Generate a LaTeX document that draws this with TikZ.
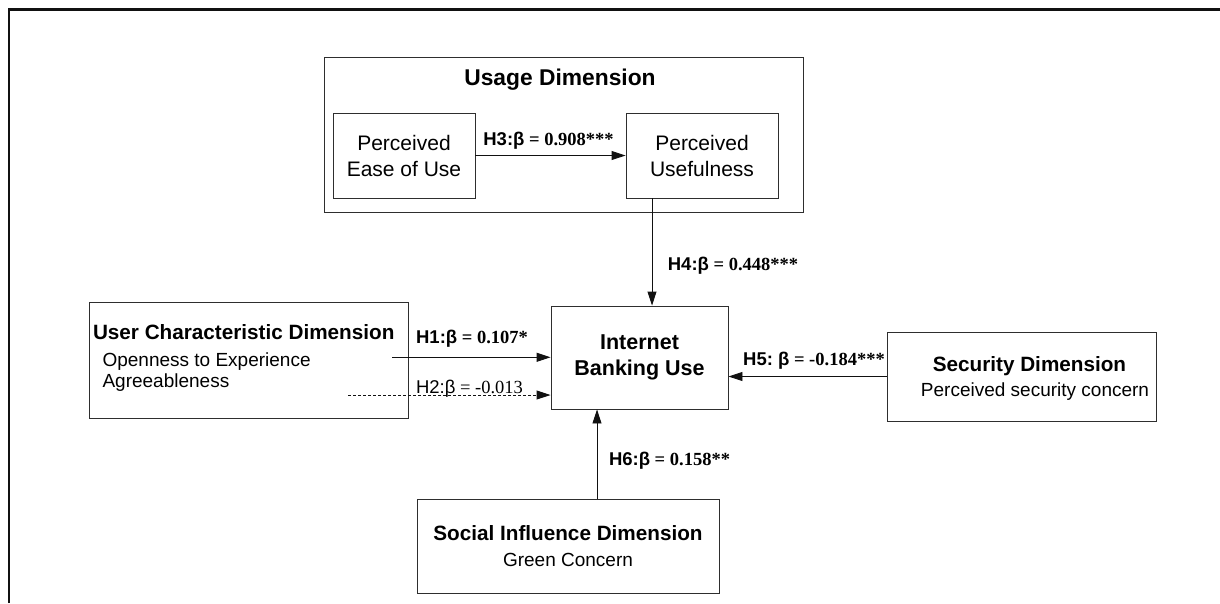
\documentclass[tikz,border=0pt]{standalone}
\usepackage{fontspec}
\setmainfont{Liberation Sans}
\newfontfamily\numfont{Liberation Serif}
\usetikzlibrary{arrows.meta,positioning,calc}
\definecolor{Ink}{HTML}{111111}
\definecolor{Edge}{HTML}{2E2E2E}
\tikzset{
  dimbox/.style={draw=Edge,line width=.9pt,inner sep=0pt,align=center,font=\fontsize{21}{26}\selectfont},
  hdr/.style={anchor=base,font=\fontsize{20.7}{26}\selectfont\bfseries},
  subtxt/.style={anchor=base,font=\fontsize{19}{24}\selectfont},
  lbl/.style={anchor=base,font=\fontsize{18.5}{22}\selectfont},
  eff/.style={-{Triangle[length=14pt,width=9pt]},draw=Ink,line width=.9pt},
  weak/.style={eff,dash pattern=on 3pt off 2pt},
}

\begin{document}
\begin{tikzpicture}[x=1pt,y=-1pt]
    \useasboundingbox (0,0) rectangle (1220,603);
    % page frame, cut off right and bottom
    \draw[line width=2.2pt,Ink] (9,603) -- (9,9.5) -- (1220,9.5);

    % usage dimension
    \node[dimbox,minimum width=479pt,minimum height=155pt] (usage) at (563.5,134.5) {};
    \node[hdr,font=\fontsize{22.8}{26}\selectfont\bfseries] (usagehdr) at (560,85) {Usage Dimension};
    \node[dimbox,minimum width=142pt,minimum height=85pt] (peou) at (404,155.5) {Perceived\\Ease of Use};
    \node[dimbox,minimum width=152pt,minimum height=85pt] (pu) at (702,155.5) {Perceived\\Usefulness};

    % outcome
    \node[dimbox,minimum width=177pt,minimum height=103pt,font=\fontsize{21.5}{25.7}\selectfont\bfseries] (ibu) at (639.5,357.5) {Internet\\Banking Use};

    % user characteristics
    \node[dimbox,minimum width=319pt,minimum height=116pt] (user) at (248.5,360) {};
    \node[hdr,anchor=base west] (userhdr) at (89.5,339) {User Characteristic Dimension};
    \node[subtxt,anchor=base west] (useropen) at (99,366.7) {Openness to Experience};
    \node[subtxt,anchor=base west] (useragree) at (99,387) {Agreeableness};

    % security
    \node[dimbox,minimum width=269pt,minimum height=89pt] (sec) at (1021.5,376.5) {};
    \node[hdr] (sechdr) at (1029.5,371.7) {Security Dimension};
    \node[subtxt] (secsub) at (1035,396.7) {Perceived security concern};

    % social influence
    \node[dimbox,minimum width=302pt,minimum height=94pt] (social) at (568,546) {};
    \node[hdr] (socialhdr) at (568,540.7) {Social Influence Dimension};
    \node[subtxt] (socialsub) at (568,566) {Green Concern};

    % paths
    \coordinate (h4tail) at (652,198);
    \coordinate (h1tail) at (392,357.3);
    \coordinate (h2tail) at (348,395);
    \coordinate (h6tail) at (social.north -| 597,0);
    \draw[eff] (peou.east) -- (pu.west);
    \draw[eff] (h4tail) -- (h4tail |- ibu.north);
    \draw[eff] (h1tail) -- (h1tail -| ibu.west);
    \draw[weak] (h2tail) -- (h2tail -| ibu.west);
    \draw[eff] (sec.west) -- (sec.west -| ibu.east);
    \draw[eff] (h6tail) -- (h6tail |- ibu.south);

    % coefficients
    \node[lbl] (h3) at (548.5,145) {\textbf{H3:β}{\numfont\bfseries\ =\ 0.908***}};
    \node[lbl] (h4) at (733,270) {\textbf{H4:β}{\numfont\bfseries\ =\ 0.448***}};
    \node[lbl] (h1) at (472,343) {\textbf{H1:β}{\numfont\bfseries\ =\ 0.107*}};
    \node[lbl] (h2) at (469.5,393) {H2:β{\numfont\ =\ -0.013}};
    \node[lbl] (h5) at (814,365) {\textbf{H5:\ β}{\numfont\bfseries\ =\ -0.184***}};
    \node[lbl] (h6) at (669.5,465) {\textbf{H6:β}{\numfont\bfseries\ =\ 0.158**}};
\end{tikzpicture}
\end{document}
